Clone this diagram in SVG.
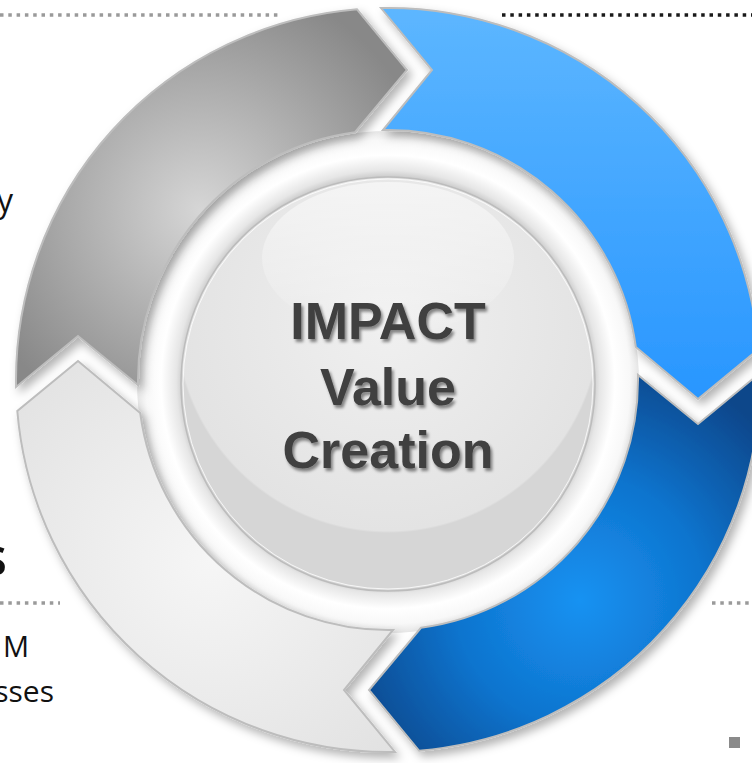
<svg xmlns="http://www.w3.org/2000/svg" width="752" height="763" viewBox="0 0 752 763">
<defs>
<style>
.arrow{stroke:#bdbdbd;stroke-width:2;stroke-linejoin:miter;filter:url(#shadow)}
.dots{fill:none;stroke-width:3.5;stroke-dasharray:3.5 4.8}
.side{font-family:"Open Sans","Noto Sans",sans-serif;fill:#111}
.center{font-family:"Liberation Sans",Arial,sans-serif;font-weight:bold;font-size:52px;fill:#404040;text-anchor:middle;filter:url(#tshadow)}
</style>
<filter id="shadow" x="-20%" y="-20%" width="140%" height="140%">
<feDropShadow dx="4" dy="5" stdDeviation="5" flood-color="#000" flood-opacity="0.3"/>
</filter>
<filter id="tshadow" x="-20%" y="-20%" width="140%" height="160%">
<feDropShadow dx="2" dy="3" stdDeviation="1.6" flood-color="#000" flood-opacity="0.45"/>
</filter>
<linearGradient id="gBlue" gradientUnits="userSpaceOnUse" x1="0" y1="0" x2="0" y2="400">
<stop offset="0" stop-color="#5eb7ff"/><stop offset="1" stop-color="#2896ff"/>
</linearGradient>
<radialGradient id="gDark" gradientUnits="userSpaceOnUse" cx="580" cy="600" r="250">
<stop offset="0" stop-color="#1892f2"/><stop offset="0.5" stop-color="#0e74ce"/><stop offset="1" stop-color="#07468a"/>
</radialGradient>
<radialGradient id="gLight" gradientUnits="userSpaceOnUse" cx="210" cy="560" r="260">
<stop offset="0" stop-color="#f6f6f6"/><stop offset="1" stop-color="#e2e2e2"/>
</radialGradient>
<radialGradient id="gGray" gradientUnits="userSpaceOnUse" cx="200" cy="210" r="235">
<stop offset="0" stop-color="#d6d6d6"/><stop offset="1" stop-color="#888888"/>
</radialGradient>
<radialGradient id="gRing" gradientUnits="userSpaceOnUse" cx="388" cy="382" r="252">
<stop offset="0.8" stop-color="#bdbdbd"/><stop offset="0.84" stop-color="#e6e6e6"/><stop offset="0.9" stop-color="#ffffff"/><stop offset="0.96" stop-color="#f8f8f8"/><stop offset="1" stop-color="#e4e4e4"/>
</radialGradient>
<radialGradient id="gDisc" gradientUnits="userSpaceOnUse" cx="388" cy="320" r="213">
<stop offset="0" stop-color="#f0f0f0"/><stop offset="0.99" stop-color="#e3e3e3"/><stop offset="1" stop-color="#d6d6d6"/>
</radialGradient>
<linearGradient id="gHi" x1="0" y1="0" x2="0" y2="1">
<stop offset="0" stop-color="#fff" stop-opacity="0.55"/><stop offset="1" stop-color="#fff" stop-opacity="0.05"/>
</linearGradient>
<clipPath id="discClip"><circle cx="388" cy="384" r="207"/></clipPath>
</defs>
<rect width="752" height="763" fill="#fff"/>

<g id="side-texts">
<line class="dots" x1="0" y1="15" x2="280" y2="15" stroke="#9a9a9a"/>
<line class="dots" x1="502" y1="15" x2="752" y2="15" stroke="#1a1a1a"/>
<line class="dots" x1="0" y1="603" x2="60" y2="603" stroke="#9a9a9a"/>
<line class="dots" x1="712" y1="603" x2="752" y2="603" stroke="#9a9a9a"/>
<rect x="729" y="737" width="11" height="11" fill="#8a8a8a"/>
<text class="side" x="13" y="212" font-size="32" text-anchor="end">y</text>
<text class="side" x="7" y="575" font-size="52" font-weight="600" text-anchor="end">s</text>
<text class="side" x="29" y="657" font-size="29" text-anchor="end">M</text>
<text class="side" x="54" y="702" font-size="30" text-anchor="end">sses</text>
</g>

<g id="ring-base">
<circle cx="388" cy="382" r="251" fill="url(#gRing)"/>
</g>

<g id="arrows">
<g id="arrow-blue"><path class="arrow" fill="url(#gBlue)" d="M381,8.07 A372,372 0 0 1 758.7,349 L698,399 L635.8,347 A250,250 0 0 0 383,130.05 L432,70 Z"/></g>
<g id="arrow-darkblue"><path class="arrow" fill="url(#gDark)" d="M759.93,373 A372,372 0 0 1 419,750.7 L369,690 L421,627.8 A250,250 0 0 0 637.95,375 L698,424 Z"/></g>
<g id="arrow-light"><path class="arrow" fill="url(#gLight)" d="M395,751.93 A372,372 0 0 1 17.3,411 L78,361 L140.2,413 A250,250 0 0 0 393,629.95 L344,690 Z"/></g>
<g id="arrow-gray"><path class="arrow" fill="url(#gGray)" d="M16.07,387 A372,372 0 0 1 357,9.3 L407,70 L355,132.2 A250,250 0 0 0 138.05,385 L78,336 Z"/></g>
</g>

<g id="center">
<circle cx="388" cy="384" r="207" fill="url(#gDisc)" stroke="#bcbcbc" stroke-width="1.5"/>
<g clip-path="url(#discClip)">
<ellipse cx="388" cy="258" rx="126" ry="76" fill="url(#gHi)"/>
</g>
<circle cx="388" cy="384" r="205" fill="none" stroke="#fff" stroke-width="1" stroke-opacity="0.8"/>
<text class="center" x="388" y="339">IMPACT</text>
<text class="center" x="388" y="405">Value</text>
<text class="center" x="388" y="468">Creation</text>
</g>
</svg>
